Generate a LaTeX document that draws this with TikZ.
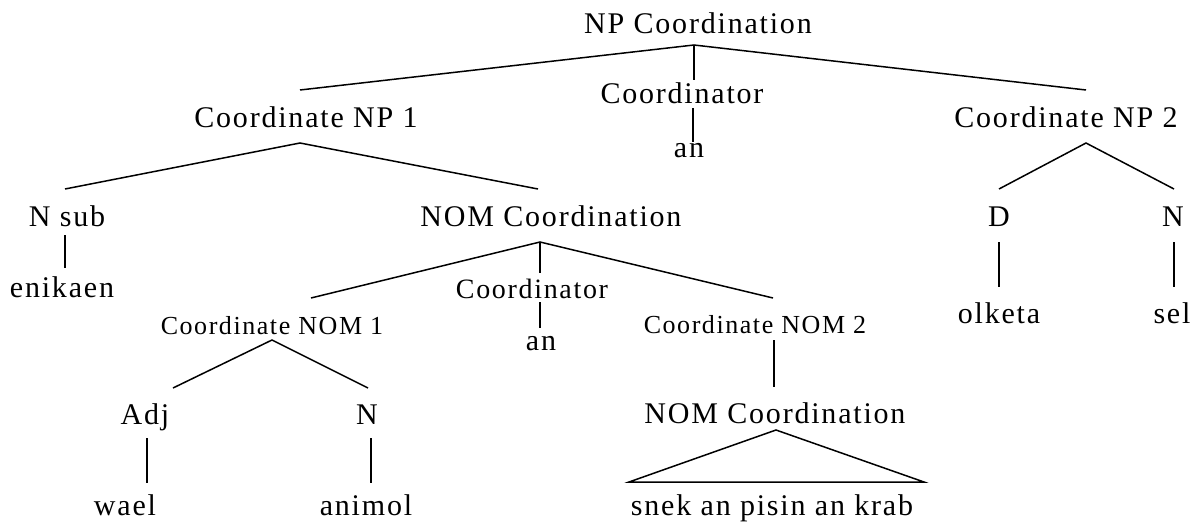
\documentclass[tikz,border=0pt]{standalone}
\usepackage{fontspec}
\setmainfont{Liberation Serif}[LetterSpace=6]
\begin{document}
\begin{tikzpicture}[x=1pt,y=-1pt,
  lbl/.style={anchor=base,inner sep=0pt,font=\fontsize{30}{31}\selectfont},
  lblm/.style={anchor=base,inner sep=0pt,font=\fontsize{28}{29}\selectfont},
  lbls/.style={anchor=base,inner sep=0pt,font=\fontsize{26}{27}\selectfont},
  edge/.style={draw=black,line width=1.5pt}]
\useasboundingbox (0,0) rectangle (1192,522);
% labels
\node[lbl] (npc) at (698,34) {NP Coordination};
\node[lbl] (cnpa) at (306,127) {Coordinate NP 1};
\node[lbl] (coora) at (682,103) {Coordinator};
\node[lbl] (ana) at (689,157) {an};
\node[lbl] (cnpb) at (1066,127) {Coordinate NP 2};
\node[lbl] (nsub) at (67,226) {N sub};
\node[lbl] (nomc) at (551,226) {NOM Coordination};
\node[lbl] (det) at (999,226) {D};
\node[lbl] (nb) at (1173,226) {N};
\node[lbl] (enik) at (62,297) {enikaen};
\node[lbl] (olk) at (999,323) {olketa};
\node[lbl] (sel) at (1172,323) {sel};
\node[lblm] (coorb) at (532,298) {Coordinator};
\node[lbl] (anb) at (541,350) {an};
\node[lbls] (cnoma) at (272,334) {Coordinate NOM 1};
\node[lbls] (cnomb) at (755,333) {Coordinate NOM 2};
\node[lbl] (adj) at (145,424) {Adj};
\node[lbl] (na) at (367,424) {N};
\node[lbl] (nomcb) at (775,423) {NOM Coordination};
\node[lbl] (wael) at (125,515) {wael};
\node[lbl] (anim) at (366,515) {animol};
\node[lbl] (snek) at (772,515) {snek an pisin an krab};
% connector end points
\coordinate (npc-b) at (694,45);
\coordinate (cnpa-t) at (300,90);
\coordinate (coora-t) at (694,80);
\coordinate (cnpb-t) at (1086,90);
\coordinate (coora-b) at (693,108);
\coordinate (ana-t) at (693,142);
\coordinate (cnpa-b) at (300,143);
\coordinate (nsub-t) at (65,189);
\coordinate (nomc-t) at (538,189);
\coordinate (nsub-b) at (65,235);
\coordinate (enik-t) at (65,268);
\coordinate (nomc-b) at (540,242);
\coordinate (cnoma-t) at (311,298);
\coordinate (coorb-t) at (540,273);
\coordinate (cnomb-t) at (773,298);
\coordinate (coorb-b) at (540,302);
\coordinate (anb-t) at (540,328);
\coordinate (cnoma-b) at (272,340);
\coordinate (adj-t) at (173,388);
\coordinate (na-t) at (368,388);
\coordinate (adj-b) at (147,438);
\coordinate (wael-t) at (147,483);
\coordinate (na-b) at (371,438);
\coordinate (anim-t) at (371,483);
\coordinate (cnomb-b) at (774,340);
\coordinate (nomcb-t) at (774,387);
\coordinate (nomcb-b) at (776,430);
\coordinate (snek-l) at (629,482);
\coordinate (snek-r) at (924,482);
\coordinate (cnpb-b) at (1086,143);
\coordinate (det-t) at (999,189);
\coordinate (nb-t) at (1174,189);
\coordinate (det-b) at (999,242);
\coordinate (olk-t) at (999,287);
\coordinate (nb-b) at (1174,242);
\coordinate (sel-t) at (1174,287);
% connectors
\draw[edge] (cnpa-t) -- (npc-b) -- (cnpb-t);
\draw[edge] (npc-b) -- (coora-t);
\draw[edge] (coora-b) -- (ana-t);
\draw[edge] (nsub-t) -- (cnpa-b) -- (nomc-t);
\draw[edge] (nsub-b) -- (enik-t);
\draw[edge] (cnoma-t) -- (nomc-b) -- (cnomb-t);
\draw[edge] (nomc-b) -- (coorb-t);
\draw[edge] (coorb-b) -- (anb-t);
\draw[edge] (adj-t) -- (cnoma-b) -- (na-t);
\draw[edge] (adj-b) -- (wael-t);
\draw[edge] (na-b) -- (anim-t);
\draw[edge] (cnomb-b) -- (nomcb-t);
\draw[edge,line join=miter] (nomcb-b) -- (snek-l) -- (snek-r) -- cycle;
\draw[edge] (det-t) -- (cnpb-b) -- (nb-t);
\draw[edge] (det-b) -- (olk-t);
\draw[edge] (nb-b) -- (sel-t);
\end{tikzpicture}
\end{document}
